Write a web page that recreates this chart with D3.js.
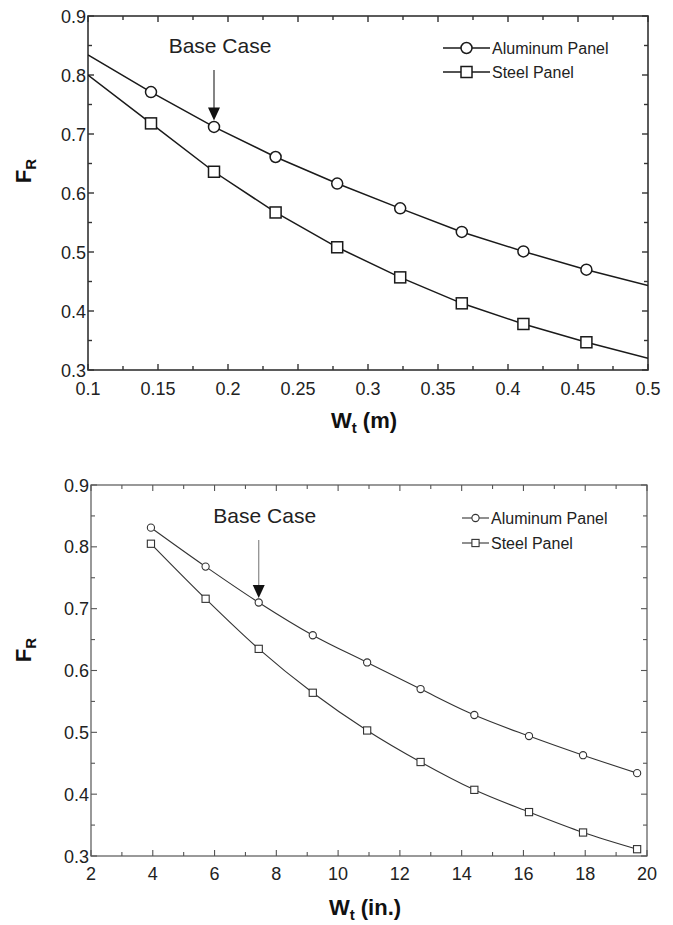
<!DOCTYPE html>
<html>
<head>
<meta charset="utf-8">
<script src="https://cdn.jsdelivr.net/npm/d3@7/dist/d3.min.js"></script>
<style>
  html, body { margin: 0; padding: 0; background: #fff; }
  svg { display: block; font-family: "Liberation Sans", Arial, sans-serif; }
</style>
</head>
<body>
<svg id="chart" width="673" height="925"></svg>
<script>
// Trough width in metres (upper panel)
const widthM = [0.1, 0.145, 0.19, 0.234, 0.278, 0.323, 0.367, 0.411, 0.456, 0.5];
const aluminumM = [0.834, 0.771, 0.712, 0.661, 0.616, 0.574, 0.534, 0.501, 0.470, 0.443];
const steelM = [0.800, 0.718, 0.636, 0.567, 0.508, 0.457, 0.413, 0.378, 0.347, 0.320];

// Trough width in inches (lower panel)
const widthIn = [3.94, 5.71, 7.43, 9.18, 10.94, 12.67, 14.41, 16.18, 17.93, 19.68];
const aluminumIn = [0.831, 0.768, 0.710, 0.657, 0.613, 0.570, 0.528, 0.494, 0.463, 0.434];
const steelIn = [0.805, 0.716, 0.635, 0.564, 0.503, 0.452, 0.407, 0.371, 0.338, 0.311];

const yTickValues = [0.3, 0.4, 0.5, 0.6, 0.7, 0.8, 0.9];
const xTicksM = [0.1, 0.15, 0.2, 0.25, 0.3, 0.35, 0.4, 0.45, 0.5];
const xTicksIn = [2, 4, 6, 8, 10, 12, 14, 16, 18, 20];
const seriesNames = ["Aluminum Panel", "Steel Panel"];
const annotationText = "Base Case";

const svg = d3.select("#chart");

function drawPanel(cfg) {
  const x = d3.scaleLinear().domain(cfg.xDomain).range([cfg.left, cfg.right]);
  const y = d3.scaleLinear().domain([0.3, 0.9]).range([cfg.bottom, cfg.top]);
  const g = svg.append("g");
  const clipId = "clip" + cfg.id;
  g.append("clipPath").attr("id", clipId).append("rect")
    .attr("x", cfg.left).attr("y", cfg.top)
    .attr("width", cfg.right - cfg.left).attr("height", cfg.bottom - cfg.top);

  // inward ticks on all four sides
  const xMinor = [];
  for (let i = 0; i < cfg.xTicks.length - 1; i++) xMinor.push((cfg.xTicks[i] + cfg.xTicks[i + 1]) / 2);
  const yMinor = [];
  for (let i = 0; i < yTickValues.length - 1; i++) yMinor.push((yTickValues[i] + yTickValues[i + 1]) / 2);

  const tickStyle = s => s.attr("stroke", cfg.frameColor).attr("stroke-width", cfg.tickWidth);
  const majorLen = 6, minorLen = 4;
  const addXTicks = (vals, len) => {
    vals.forEach(v => {
      g.append("line").call(tickStyle).attr("x1", x(v)).attr("x2", x(v)).attr("y1", cfg.bottom).attr("y2", cfg.bottom - len);
      g.append("line").call(tickStyle).attr("x1", x(v)).attr("x2", x(v)).attr("y1", cfg.top).attr("y2", cfg.top + len);
    });
  };
  const addYTicks = (vals, len) => {
    vals.forEach(v => {
      g.append("line").call(tickStyle).attr("y1", y(v)).attr("y2", y(v)).attr("x1", cfg.left).attr("x2", cfg.left + len);
      g.append("line").call(tickStyle).attr("y1", y(v)).attr("y2", y(v)).attr("x1", cfg.right).attr("x2", cfg.right - len);
    });
  };
  addXTicks(cfg.xTicks, majorLen); addXTicks(xMinor, minorLen);
  addYTicks(yTickValues, majorLen); addYTicks(yMinor, minorLen);

  g.append("rect")
    .attr("x", cfg.left).attr("y", cfg.top)
    .attr("width", cfg.right - cfg.left).attr("height", cfg.bottom - cfg.top)
    .attr("fill", "none").attr("stroke", cfg.frameColor).attr("stroke-width", cfg.frameWidth);

  // tick labels
  g.selectAll(".xl").data(cfg.xTicks).enter().append("text")
    .attr("x", d => x(d)).attr("y", cfg.bottom + cfg.xLabelOffset)
    .attr("text-anchor", "middle").attr("font-size", 18).attr("fill", "#222")
    .text(d => d3.format("~g")(d));
  g.selectAll(".yl").data(yTickValues).enter().append("text")
    .attr("x", cfg.left - 2).attr("y", d => y(d) + 6.5)
    .attr("text-anchor", "end").attr("font-size", 18).attr("fill", "#222")
    .text(d => d.toFixed(1));

  // axis titles
  const xt = g.append("text").attr("x", (cfg.left + cfg.right) / 2 - 4).attr("y", cfg.xTitleY)
    .attr("text-anchor", "middle").attr("font-size", 22).attr("font-weight", "bold").attr("fill", "#111");
  xt.append("tspan").text("W");
  xt.append("tspan").attr("font-size", 15).attr("dy", 5).text("t");
  xt.append("tspan").attr("dy", -5).text(" " + cfg.unit);

  const yt = g.append("text").attr("transform", `translate(31,${cfg.yTitleY}) rotate(-90)`)
    .attr("text-anchor", "middle").attr("font-size", 22).attr("font-weight", "bold").attr("fill", "#111");
  yt.append("tspan").text("F");
  yt.append("tspan").attr("font-size", 15).attr("dy", 5).text("R");

  // curves
  const line = d3.line().x(d => x(d[0])).y(d => y(d[1])).curve(cfg.curve);
  const series = [cfg.al, cfg.st];
  series.forEach(vals => {
    const pts = cfg.xs.map((xv, i) => [xv, vals[i]]);
    g.append("path").attr("clip-path", `url(#${clipId})`).attr("d", line(pts))
      .attr("fill", "none").attr("stroke", cfg.lineColor).attr("stroke-width", cfg.lineWidth);
  });

  // markers
  const markerIdx = cfg.xs.map((_, i) => i).filter(i => i >= cfg.markerFrom && i <= cfg.markerTo);
  const r = cfg.markerR;
  g.selectAll(".mc").data(markerIdx).enter().append("circle")
    .attr("cx", i => x(cfg.xs[i])).attr("cy", i => y(cfg.al[i])).attr("r", r)
    .attr("fill", "#fff").attr("stroke", cfg.lineColor).attr("stroke-width", cfg.markerStroke);
  g.selectAll(".ms").data(markerIdx).enter().append("rect")
    .attr("x", i => x(cfg.xs[i]) - r).attr("y", i => y(cfg.st[i]) - r)
    .attr("width", 2 * r).attr("height", 2 * r)
    .attr("fill", "#fff").attr("stroke", cfg.lineColor).attr("stroke-width", cfg.markerStroke);

  // legend
  const lg = g.append("g");
  seriesNames.forEach((name, k) => {
    const ly = cfg.legendY + k * cfg.legendGap;
    const cx = (cfg.legendX1 + cfg.legendX2) / 2;
    lg.append("line").attr("x1", cfg.legendX1).attr("x2", cfg.legendX2).attr("y1", ly).attr("y2", ly)
      .attr("stroke", cfg.lineColor).attr("stroke-width", cfg.lineWidth);
    if (k === 0) {
      lg.append("circle").attr("cx", cx).attr("cy", ly).attr("r", r)
        .attr("fill", "#fff").attr("stroke", cfg.lineColor).attr("stroke-width", cfg.markerStroke);
    } else {
      lg.append("rect").attr("x", cx - r).attr("y", ly - r).attr("width", 2 * r).attr("height", 2 * r)
        .attr("fill", "#fff").attr("stroke", cfg.lineColor).attr("stroke-width", cfg.markerStroke);
    }
    lg.append("text").attr("x", cfg.legendX2 + 2).attr("y", ly + 6)
      .attr("font-size", 16).attr("fill", "#222").text(name);
  });

  // base case annotation, pointing at the third point of the aluminum series
  const bx = x(cfg.xs[2]);
  const tipY = y(cfg.al[2]) - r - 1;
  g.append("text").attr("x", bx + cfg.annoDx).attr("y", cfg.annoTextY)
    .attr("text-anchor", "middle").attr("font-size", 21).attr("fill", "#222").text(annotationText);
  g.append("line").attr("x1", bx).attr("x2", bx).attr("y1", cfg.arrowTop).attr("y2", tipY - 12)
    .attr("stroke", cfg.arrowColor).attr("stroke-width", 1.2);
  g.append("path").attr("d", `M${bx - 6},${tipY - 13} L${bx + 6},${tipY - 13} L${bx},${tipY} Z`)
    .attr("fill", "#111");
}

drawPanel({
  id: "m", xDomain: [0.1, 0.5], xTicks: xTicksM, curve: d3.curveLinear,
  left: 88, right: 648, top: 16, bottom: 370,
  xs: widthM, al: aluminumM, st: steelM, markerFrom: 1, markerTo: 8,
  markerR: 5.5, markerStroke: 1.5, lineWidth: 1.5, lineColor: "#1a1a1a",
  frameColor: "#333", frameWidth: 1.6, tickWidth: 1.4,
  xLabelOffset: 25, xTitleY: 428, unit: "(m)", yTitleY: 171,
  legendX1: 443, legendX2: 490, legendY: 48, legendGap: 24,
  annoDx: 6, annoTextY: 53, arrowTop: 70, arrowColor: "#333"
});

drawPanel({
  id: "in", xDomain: [2, 20], xTicks: xTicksIn, curve: d3.curveMonotoneX,
  left: 91, right: 647, top: 485, bottom: 856,
  xs: widthIn, al: aluminumIn, st: steelIn, markerFrom: 0, markerTo: 9,
  markerR: 3.6, markerStroke: 1.1, lineWidth: 1.1, lineColor: "#333",
  frameColor: "#555", frameWidth: 1.2, tickWidth: 1.1,
  xLabelOffset: 24, xTitleY: 915, unit: "(in.)", yTitleY: 650,
  legendX1: 462, legendX2: 489, legendY: 518, legendGap: 25,
  annoDx: 6, annoTextY: 523, arrowTop: 540, arrowColor: "#888"
});
</script>
</body>
</html>
